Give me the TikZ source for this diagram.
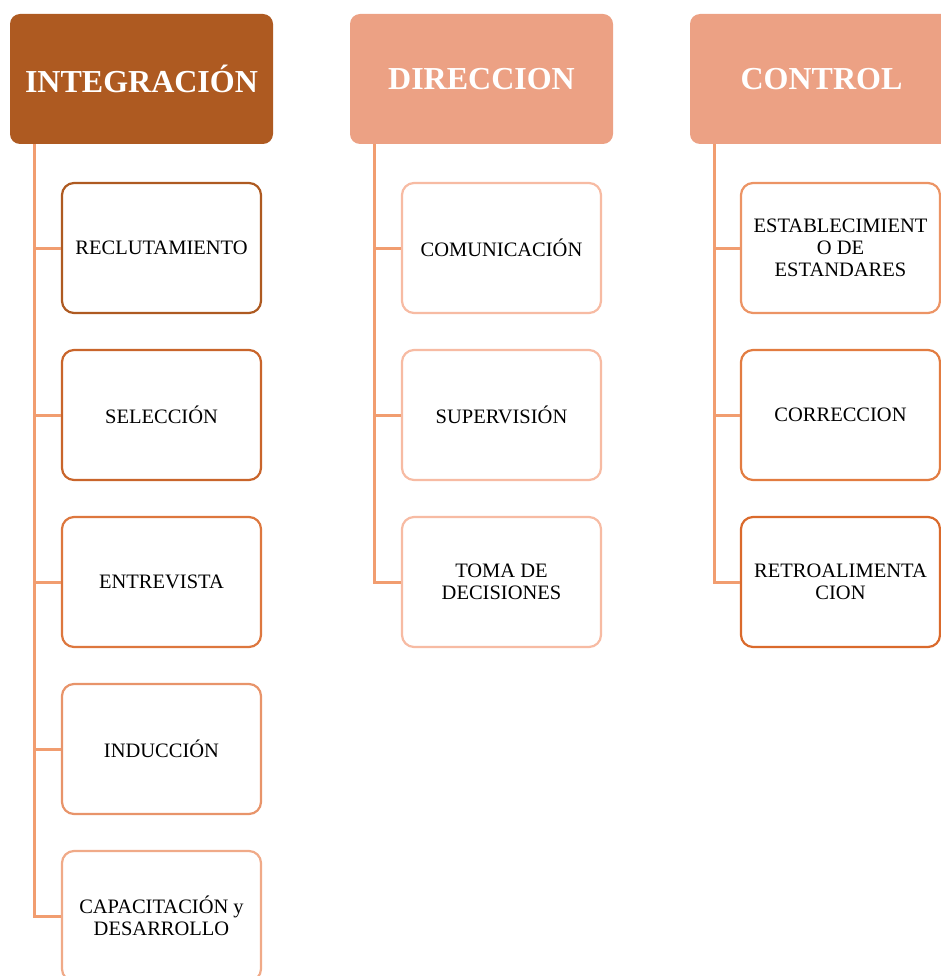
\documentclass[tikz,border=0pt]{standalone}
\usepackage{fontspec}
\setmainfont{Liberation Serif}
\usepackage{xcolor}
\usetikzlibrary{positioning}

\definecolor{brownhead}{HTML}{AE5A21}
\definecolor{salmonhead}{HTML}{ECA184}
\definecolor{trunkline}{HTML}{F19D70}
\definecolor{ibA}{HTML}{AE5A21}
\definecolor{ibB}{HTML}{C9652B}
\definecolor{ibC}{HTML}{DD773E}
\definecolor{ibD}{HTML}{E8946A}
\definecolor{ibE}{HTML}{F0AA88}
\definecolor{dbox}{HTML}{F7BBA3}
\definecolor{cbA}{HTML}{EC9465}
\definecolor{cbB}{HTML}{E27C41}
\definecolor{cbC}{HTML}{DA6A2C}

\tikzset{
  headbox/.style={rectangle, rounded corners=10pt, minimum width=263pt, minimum height=130pt,
    text=white, font=\fontsize{32}{36}\selectfont\bfseries, inner sep=0pt},
  childbox/.style={rectangle, rounded corners=12pt, fill=white, line width=2.2pt,
    minimum width=199pt, minimum height=130pt, align=center, inner sep=2pt,
    font=\fontsize{20.5}{22}\selectfont},
  trunk/.style={draw=trunkline, line width=3pt}
}

\begin{document}
\begin{tikzpicture}[x=1pt, y=-1pt]
  \useasboundingbox (0,0) rectangle (941,976);
  \clip (0,0) rectangle (941,976);
  % Headers
  \node[headbox, fill=brownhead] (integ) at (141.5,79) {INTEGRACIÓN};
  \node[headbox, fill=salmonhead] (direc) at (481.5,79) {DIRECCION};
  \node[headbox, fill=salmonhead] (ctrl) at (821.5,79) {CONTROL};
  % Trunk start points
  \coordinate (itop) at ([xshift=25pt]integ.south west);
  \coordinate (dtop) at ([xshift=25pt]direc.south west);
  \coordinate (ctop) at ([xshift=25pt]ctrl.south west);
  % Integracion children
  \foreach \n/\txt/\col in {1/RECLUTAMIENTO/ibA, 2/SELECCIÓN/ibB, 3/ENTREVISTA/ibC,
      4/INDUCCIÓN/ibD, 5/{CAPACITACIÓN y\\DESARROLLO}/ibE} {
    \node[childbox, draw=\col] (i\n) at (161.5,{248+167*(\n-1)}) {\txt};
    \draw[trunk] (itop) |- (i\n.west);
  }
  % Direccion children
  \foreach \n/\txt in {1/COMUNICACIÓN, 2/SUPERVISIÓN, 3/{TOMA DE\\DECISIONES}} {
    \node[childbox, draw=dbox] (d\n) at (501.5,{248+167*(\n-1)}) {\txt};
    \draw[trunk] (dtop) |- (d\n.west);
  }
  % Control children
  \foreach \n/\txt/\col in {1/{ESTABLECIMIENT\\O DE\\ESTANDARES}/cbA, 2/CORRECCION/cbB,
      3/{RETROALIMENTA\\CION}/cbC} {
    \node[childbox, draw=\col] (c\n) at (840.5,{248+167*(\n-1)}) {\txt};
    \draw[trunk] (ctop) |- (c\n.west);
  }
\end{tikzpicture}
\end{document}
